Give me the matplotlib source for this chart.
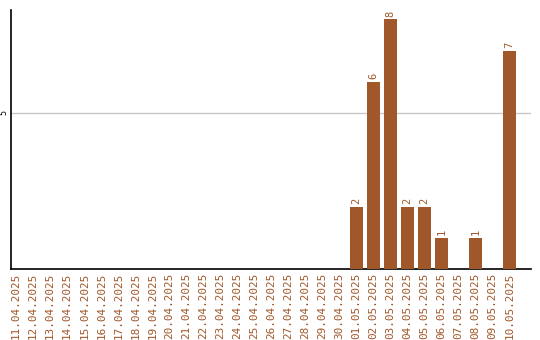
import matplotlib
matplotlib.use('Agg')
import matplotlib.pyplot as plt
import numpy as np

# data
dates = ['11.04.2025', '12.04.2025', '13.04.2025', '14.04.2025', '15.04.2025',
         '16.04.2025', '17.04.2025', '18.04.2025', '19.04.2025', '20.04.2025',
         '21.04.2025', '22.04.2025', '23.04.2025', '24.04.2025', '25.04.2025',
         '26.04.2025', '27.04.2025', '28.04.2025', '29.04.2025', '30.04.2025',
         '01.05.2025', '02.05.2025', '03.05.2025', '04.05.2025', '05.05.2025',
         '06.05.2025', '07.05.2025', '08.05.2025', '09.05.2025', '10.05.2025']
counts = [0, 0, 0, 0, 0, 0, 0, 0, 0, 0,
          0, 0, 0, 0, 0, 0, 0, 0, 0, 0,
          2, 6, 8, 2, 2, 1, 0, 1, 0, 7]

brown = '#A0572A'
fnt = 'DejaVu Sans Mono'

fig = plt.figure(figsize=(5.4, 3.4), dpi=100)
ax = fig.add_axes([11/540, 1-269/340, 520/540, 259/340])

x = np.arange(len(dates))
bars = ax.bar(x, counts, width=0.78, color=brown, zorder=3)
for xi, v in zip(x, counts):
    if v > 0:
        ax.text(xi, v + 0.08, str(v), rotation=90, ha='center', va='bottom',
                color=brown, fontsize=7.5, family=fnt)

ax.set_xlim(-0.3, 30.25)
ax.set_ylim(0, 8.3)
ax.set_xticks(x)
ax.set_xticklabels(dates, rotation=90, color=brown, fontsize=7.9, family=fnt)
ax.set_yticks([5])
ax.set_yticklabels(['5'], rotation=90, fontsize=6, family=fnt, va='center')
ax.tick_params(axis='both', length=0, pad=2.5)
ax.tick_params(axis='y', pad=2)
ax.grid(axis='y', color='#c8c8c8', linewidth=1, zorder=0)
for s in ['top', 'right']:
    ax.spines[s].set_visible(False)
for s in ['left', 'bottom']:
    ax.spines[s].set_color('black')
    ax.spines[s].set_linewidth(1.2)

plt.savefig('out.png', dpi=100)
